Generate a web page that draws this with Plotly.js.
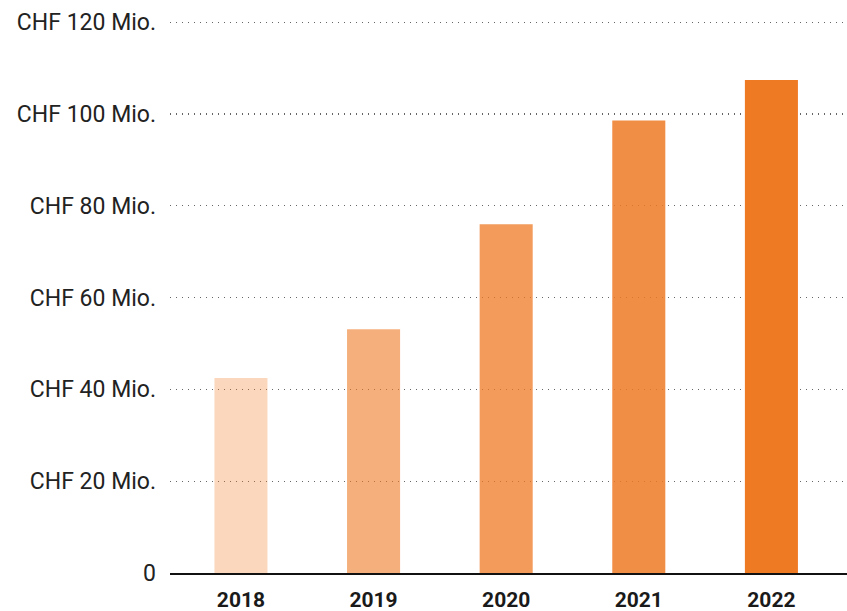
<!DOCTYPE html>
<html>
<head>
<meta charset="utf-8">
<script src="https://cdn.plot.ly/plotly-3.0.1.min.js"></script>
<style>html,body{margin:0;padding:0;background:#fff;}#chart{width:847px;height:611px;}</style>
</head>
<body>
<div id="chart"></div>
<script>
const years = ["2018", "2019", "2020", "2021", "2022"];
const values = [42.5, 53.1, 76.0, 98.6, 107.4];
const barColors = ["rgba(238,122,36,0.30)", "rgba(238,122,36,0.60)", "rgba(238,122,36,0.75)", "rgba(238,122,36,0.85)", "rgba(238,122,36,1)"];
const yTickVals = [0, 20, 40, 60, 80, 100, 120];
const yTickText = ["0", "CHF 20 Mio.", "CHF 40 Mio.", "CHF 60 Mio.", "CHF 80 Mio.", "CHF 100 Mio.", "CHF 120 Mio."];

const trace = {
  type: 'bar',
  x: years,
  y: values,
  width: 0.4,
  marker: {color: barColors, line: {width: 0}},
  hoverinfo: 'skip'
};

const layout = {
  width: 847, height: 611,
  margin: {l: 170, r: 0, t: 19.7, b: 38},
  paper_bgcolor: '#fff', plot_bgcolor: '#fff',
  font: {family: 'Roboto, sans-serif', color: '#1a1a1a'},
  showlegend: false,
  xaxis: {
    type: 'category',
    range: [-0.535, 4.57],
    showgrid: false,
    showline: true, linecolor: '#111', linewidth: 1.5,
    ticks: '', ticklabelstandoff: 7,
    tickfont: {size: 21, family: 'Roboto, sans-serif', weight: 'bold', color: '#1a1a1a'},
    fixedrange: true
  },
  yaxis: {
    range: [0, 120.5],
    tickvals: yTickVals, ticktext: yTickText,
    showgrid: true, gridcolor: '#666', griddash: '1px,5px', gridwidth: 1.2,
    zeroline: false, showline: false, ticks: '',
    ticklabelstandoff: 13,
    tickfont: {size: 23, family: 'Roboto, sans-serif', color: '#222'},
    fixedrange: true
  },
  bargap: 0.6
};

Plotly.newPlot('chart', [trace], layout, {displayModeBar: false, staticPlot: true});
</script>
</body>
</html>
